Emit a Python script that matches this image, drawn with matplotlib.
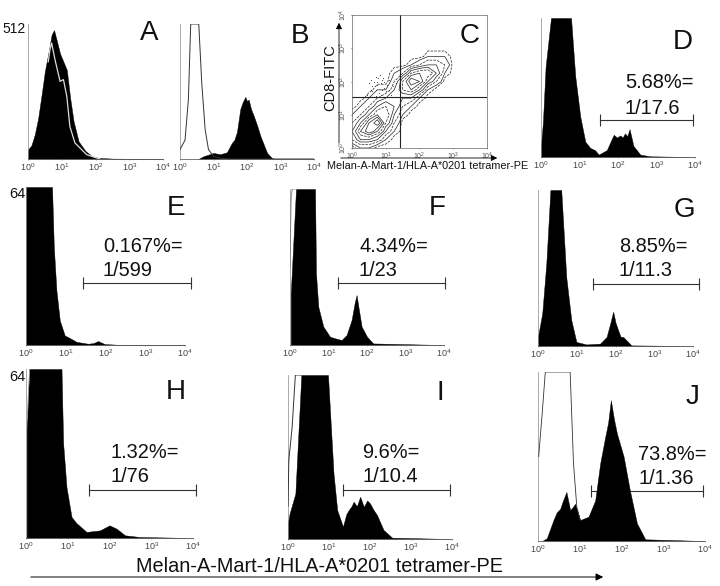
import matplotlib
matplotlib.use('Agg')
import matplotlib.pyplot as plt
import numpy as np

plt.rcParams['font.family'] = ['Liberation Sans', 'DejaVu Sans']
plt.rcParams['mathtext.default'] = 'regular'

W, H = 720, 586

# x values are log10 fluorescence, y values are fraction of the axis height
a_x = [0, .1, .2, .3, .4, .5, .6, .7, .77, .85, .95, 1.05, 1.15, 1.25, 1.35, 1.5, 1.7, 1.9, 2.1, 2.5, 4]
a_y = [.07, .1, .18, .3, .47, .65, .78, .92, .955, .88, .78, .72, .66, .45, .28, .13, .06, .02, .008, .003, 0]
a_ox = [.6, .65, .7, .8, .95, 1.05, 1.15, 1.24, 1.39, 1.74, 2.13]
a_oy = [.72, .81, .86, .736, .575, .588, .464, .242, .119, .032, 0]

b_x = [.55, .7, 1, 1.2, 1.4, 1.55, 1.62, 1.7, 1.8, 1.87, 1.95, 2.0, 2.05, 2.12, 2.2, 2.3, 2.4, 2.6, 2.75, 2.9, 4]
b_y = [0, .02, .045, .035, .05, .12, .14, .2, .37, .42, .46, .43, .44, .37, .32, .25, .17, .045, .005, 0, 0]
b_ox = [0, .15, .25, .32, .56, .65, .75, .85, 1, 1.2, 1.5, 4]
b_oy = [.07, .14, .44, 1, 1, .56, .22, .07, .02, .005, 0, 0]

d_x = [0, .05, .12, .26, .78, .89, 1.02, 1.15, 1.28, 1.4, 1.5, 1.71, 1.83, 1.89, 1.97, 2.06, 2.12, 2.18, 2.24, 2.3, 2.4, 2.58, 2.84, 4]
d_y = [.08, .25, .65, 1, 1, .58, .29, .11, .065, .05, .017, .05, .125, .16, .14, .155, .14, .17, .15, .2, .08, .017, .005, 0]

e_x = [0, .655, .7, .765, .85, .975, 1.06, 1.27, 1.56, 1.7, 1.81, 1.98, 2.28, 4]
e_y = [1, 1, .62, .345, .155, .06, .05, .02, .008, .012, .025, .006, .002, 0]

f_x = [.02, .09, .156, .65, .675, .735, .865, 1.04, 1.17, 1.34, 1.47, 1.6, 1.68, 1.73, 1.78, 1.86, 2, 2.16, 4]
f_y = [.33, .675, 1, 1, .46, .245, .118, .053, .043, .032, .064, .16, .27, .32, .24, .118, .053, .01, 0]
f_ox = [0, .03, .06, .156]
f_oy = [.5, .95, 1, 1]

g_x = [0, .11, .215, .32, .6, .73, .86, .99, 1.25, 1.6, 1.77, 1.87, 1.94, 2.0, 2.07, 2.13, 2.2, 2.41, 4]
g_y = [.06, .21, .53, 1, 1, .44, .165, .026, .01, .015, .058, .15, .22, .15, .1, .06, .058, .004, 0]

h_x = [.016, .08, .85, .89, .97, 1.09, 1.2, 1.45, 1.77, 2.0, 2.17, 2.37, 2.72, 4]
h_y = [.64, 1, 1, .56, .3, .125, .09, .036, .045, .075, .055, .016, .006, 0]
h_ox = [.03, .06, .09]
h_oy = [.7, .88, 1]

i_x = [0, .04, .18, .325, .975, 1.11, 1.2, 1.34, 1.42, 1.48, 1.55, 1.6, 1.68, 1.76, 1.85, 1.93, 2.0, 2.08, 2.17, 2.33, 2.54, 4]
i_y = [.1, .156, .277, 1, 1, .4, .176, .075, .15, .176, .2, .227, .2, .257, .196, .235, .217, .18, .146, .055, .008, 0]
i_ox = [0, .02, .1, .18, .325]
i_oy = [.2, .48, .68, 1, 1]

j_x = [.1, .21, .37, .45, .53, .6, .68, .77, .83, .89, 1.01, 1.21, 1.37, 1.49, 1.61, 1.68, 1.745, 1.82, 1.89, 2.05, 2.2, 2.37, 2.57, 4]
j_y = [0, .016, .124, .17, .19, .24, .29, .183, .2, .22, .124, .144, .24, .46, .616, .7, .833, .72, .636, .5, .3, .104, .01, 0]
j_ox = [.016, .1, .175, .77, .85, .93, 1.01]
j_oy = [.5, .754, 1, 1, .46, .2, .124]

# dot plot panel: density read by eye on a quarter-decade grid
c_x = [0, .25, .5, .75, 1, 1.25, 1.5, 1.75, 2, 2.25, 2.5, 2.75, 3]
c_y = [0, .25, .5, .75, 1, 1.25, 1.5, 1.75, 2, 2.25, 2.5, 2.75, 3]
c_z = [
    [0, 1, 1, 0, 0, 0, 0, 0, 0, 0, 0, 0, 0],
    [2, 4, 4, 3, 1, 0, 0, 0, 0, 0, 0, 0, 0],
    [3, 6, 8, 6, 3, 1, 0, 0, 0, 0, 0, 0, 0],
    [2, 4, 7, 9, 5, 2, 0, 0, 0, 0, 0, 0, 0],
    [1, 2, 4, 6, 6, 3, 1, 0, 0, 0, 0, 0, 0],
    [0, 1, 2, 4, 5, 4, 2, 1, 0, 0, 0, 0, 0],
    [0, 0, 1, 2, 3, 4, 3, 3, 1, 0, 0, 0, 0],
    [0, 0, 0, 1, 1, 3, 5, 6, 4, 1, 0, 0, 0],
    [0, 0, 0, 0, 0, 2, 5, 8, 7, 4, 2, 0, 0],
    [0, 0, 0, 0, 0, 1, 2, 5, 6, 6, 4, 1, 0],
    [0, 0, 0, 0, 0, 0, 0, 1, 2, 3, 3, 2, 0],
    [0, 0, 0, 0, 0, 0, 0, 0, 0, 1, 1, 1, 0],
    [0, 0, 0, 0, 0, 0, 0, 0, 0, 0, 0, 0, 0],
]
dots_x = [.5, .55, .6, .65, .7, .72, .75, .78, .8, .82, .85, .88, .9, .92, .95, 1.0, 1.05, 1.1, 1.15, .45, .6, .7, .85, .95, 1.1, 1.2, 1.3, .55, .75]
dots_y = [1.95, 2.05, 1.85, 2.0, 2.15, 1.75, 1.9, 2.1, 1.65, 2.2, 1.95, 2.05, 1.75, 2.1, 1.8, 1.7, 1.9, 1.75, 1.6, 1.6, 1.7, 1.55, 1.6, 2.0, 2.05, 1.85, 1.95, 1.75, 2.0]

fig = plt.figure(figsize=(W / 100, H / 100), dpi=100)


def make_axes(x0, x1, top, base):
    ax = fig.add_axes([x0 / W, 1 - base / H, (x1 - x0) / W, (base - top) / H])
    ax.set_xscale('log')
    ax.set_xlim(1, 1e4)
    ax.set_ylim(0, 1)
    ax.set_xticks([1, 10, 100, 1000, 10000])
    ax.set_xticklabels(['$10^{%d}$' % i for i in range(5)], fontsize=6.5, color='#444444')
    ax.minorticks_off()
    ax.tick_params(axis='x', length=1, width=.4, color='#777777', pad=.5)
    ax.set_yticks([])
    ax.spines['top'].set_visible(False)
    ax.spines['right'].set_visible(False)
    ax.spines['left'].set_linewidth(.5)
    ax.spines['left'].set_color('#888888')
    ax.spines['bottom'].set_linewidth(.6)
    ax.spines['bottom'].set_color('#666666')
    ax.patch.set_alpha(0)
    return ax


def hist(ax, x, y):
    ax.fill_between(10 ** np.array(x), y, color='black', lw=.3, zorder=2)


def overlay(ax, x, y, color='#333333', lw=.7):
    ax.plot(10 ** np.array(x), y, color=color, lw=lw, zorder=3)


def gate(ax, start, end, level):
    ax.plot([10 ** start, 10 ** end], [level, level], color='#333333', lw=.8, clip_on=False,
            marker='|', ms=8, mew=.8, zorder=1)


def label(px, py, s, size=14.4, ha='left', **kw):
    fig.text(px / W, 1 - py / H, s, fontsize=size, ha=ha, va='center', color='#111111', **kw)


# panel A
ax = make_axes(28, 163, 24, 159)
hist(ax, a_x, a_y)
overlay(ax, a_ox, a_oy, color='#dddddd', lw=.9)
label(26, 29, '512', size=10, ha='right')
label(149, 33, 'A', size=20, ha='center')

# panel B
ax = make_axes(180, 314, 24, 159)
hist(ax, b_x, b_y)
overlay(ax, b_ox, b_oy)
label(300, 36, 'B', size=20, ha='center')

# panel C
ax = make_axes(352, 487, 15, 148)
ax.set_yscale('log')
ax.contour(10 ** np.array(c_x), 10 ** np.array(c_y), np.array(c_z), levels=[.4, 1, 2, 3, 4, 5, 6, 7, 8],
           colors='#222222', linewidths=.5, linestyles=['--', '-', '--', '-', '-', '--', '-', '-', '-'])
ax.scatter(10 ** np.array(dots_x), 10 ** np.array(dots_y), s=.6, color='#333333', lw=0)
ax.set_xlim(1, 1e4)
ax.set_ylim(1, 1e4)
ax.spines['top'].set_visible(True)
ax.spines['right'].set_visible(True)
for s in ax.spines.values():
    s.set_linewidth(.5)
    s.set_color('#666666')
ax.set_xticks([1, 10, 100, 1000, 10000])
ax.set_xticklabels(['$10^{%d}$' % i for i in range(5)], fontsize=5, color='#555555')
ax.set_yticks([1, 10, 100, 1000, 10000])
ax.set_yticklabels(['$10^{%d}$' % i for i in range(5)], fontsize=5, color='#555555', rotation=90, va='center')
ax.minorticks_off()
ax.tick_params(axis='both', length=1, width=.4, pad=1)
ax.axvline(10 ** 1.43, color='#222222', lw=.8)
ax.axhline(10 ** 1.53, color='#222222', lw=.8)
label(470, 36, 'C', size=20, ha='center')
label(330, 78, 'CD8-FITC', size=10.5, ha='center', rotation=90)
label(327, 166, 'Melan-A-Mart-1/HLA-A*0201 tetramer-PE', size=7.8)
fig.add_artist(matplotlib.patches.FancyArrowPatch((339 / W, 1 - 146 / H), (339 / W, 1 - 20 / H),
               transform=fig.transFigure, arrowstyle='-|>', mutation_scale=9, lw=.6, color='black'))
fig.add_artist(matplotlib.patches.FancyArrowPatch((338 / W, 1 - 158 / H), (500 / W, 1 - 158 / H),
               transform=fig.transFigure, arrowstyle='-|>', mutation_scale=9, lw=.6, color='black'))

# panel D
ax = make_axes(541, 695, 18, 157)
hist(ax, d_x, d_y)
gate(ax, 1.52, 3.96, .264)
label(625, 83, '5.68%=')
label(625, 108, '1/17.6')
label(683, 42, 'D', size=20, ha='center')

# panel E
ax = make_axes(26, 185, 187, 345)
hist(ax, e_x, e_y)
gate(ax, 1.44, 4.15, .39)
label(103, 247, '0.167%=')
label(103, 271, '1/599')
label(176, 208, 'E', size=20, ha='center')
label(25, 194, '64', size=10.5, ha='right')

# panel F
ax = make_axes(290, 444, 189, 345)
hist(ax, f_x, f_y)
overlay(ax, f_ox, f_oy, color='#777777', lw=.6)
gate(ax, 1.25, 4.03, .396)
label(359, 247, '4.34%=')
label(359, 271, '1/23')
label(437, 208, 'F', size=20, ha='center')

# panel G
ax = make_axes(538, 693, 190, 346)
hist(ax, g_x, g_y)
gate(ax, 1.42, 4.16, .4)
label(619, 247, '8.85%=')
label(619, 271, '1/11.3')
label(684, 210, 'G', size=20, ha='center')

# panel H
ax = make_axes(26, 193, 369, 538)
hist(ax, h_x, h_y)
overlay(ax, h_ox, h_oy, color='#999999', lw=.6)
gate(ax, 1.5, 4.08, .283)
label(110, 452, '1.32%=')
label(110, 476, '1/76')
label(176, 392, 'H', size=20, ha='center')
label(25, 377, '64', size=10.5, ha='right')

# panel I
ax = make_axes(288, 452, 375, 539)
hist(ax, i_x, i_y)
overlay(ax, i_ox, i_oy)
gate(ax, 1.34, 3.96, .3)
label(362, 453, '9.6%=')
label(362, 477, '1/10.4')
label(440, 393, 'I', size=20, ha='center')

# panel J
ax = make_axes(538, 705, 372, 541)
hist(ax, j_x, j_y)
overlay(ax, j_ox, j_oy, lw=.6)
gate(ax, 1.27, 3.96, .297)
label(638, 454, '73.8%=')
label(638, 478, '1/1.36')
label(693, 397, 'J', size=20, ha='center')

# shared x caption and arrow
label(320, 566, 'Melan-A-Mart-1/HLA-A*0201 tetramer-PE', size=14.3, ha='center')
fig.add_artist(matplotlib.patches.FancyArrowPatch((28 / W, 1 - 577 / H), (606 / W, 1 - 577 / H),
               transform=fig.transFigure, arrowstyle='-|>', mutation_scale=11, lw=.7, color='black'))

fig.savefig('out.png', dpi=100)
